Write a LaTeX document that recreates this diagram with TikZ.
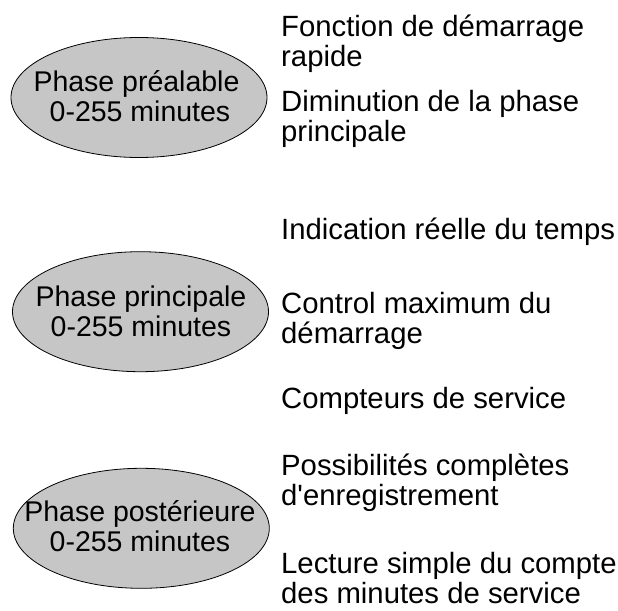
\documentclass[tikz,border=0pt]{standalone}
\usepackage{fontspec}
\setmainfont{Liberation Sans}[Ligatures=TeXOff]
\usetikzlibrary{shapes.geometric}
\definecolor{phasegray}{RGB}{198,198,198}
\tikzset{
  phase/.style={ellipse, draw=black, line width=0.8pt, fill=phasegray,
    minimum width=256pt, minimum height=120pt, inner sep=0pt},
  phasetext/.style={anchor=base, inner sep=0pt, align=center,
    font=\fontsize{28.5}{30}\selectfont},
  feat/.style={anchor=base west, inner sep=0pt, align=left,
    font=\fontsize{29.3}{30}\selectfont},
}
\begin{document}
\begin{tikzpicture}[x=1pt,y=-1pt]
\useasboundingbox (0,0) rectangle (618,610);
\node[phase] (p1) at (139,97.5) {};
\node[phase] (p2) at (140.5,311.7) {};
\node[phase] (p3) at (141.3,528.3) {};
\node[phasetext] (t1) at (136.5,121.7) {Phase préalable\\\hspace*{7pt}0-255 minutes};
\node[phasetext] (t2) at (141,336) {Phase principale\\0-255 minutes};
\node[phasetext] (t3) at (140,551.7) {Phase postérieure\\0-255 minutes};
\node[feat] (f1) at (281,66.7) {Fonction de démarrage\\rapide};
\node[feat] (f2) at (281,141.7) {Diminution de la phase\\principale};
\node[feat] (f3) at (281,239.3) {Indication réelle du temps};
\node[feat] (f4) at (281,343.3) {Control maximum du\\démarrage};
\node[feat] (f5) at (281,408) {Compteurs de service};
\node[feat] (f6) at (281,505.7) {Possibilités complètes\\d'enregistrement};
\node[feat] (f7) at (281,603.3) {Lecture simple du compte\\des minutes de service};
\end{tikzpicture}
\end{document}
